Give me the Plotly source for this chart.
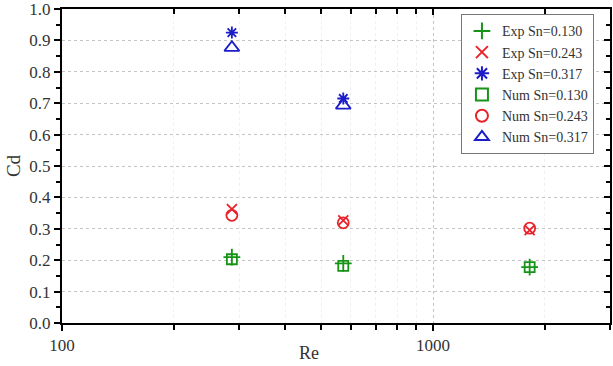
import plotly.graph_objects as go

re_vals = [287, 573, 1822]
exp_130 = [0.210, 0.190, 0.178]
exp_243 = [0.363, 0.327, 0.296]
exp_317 = [0.925, 0.715, 0.574]
num_130 = [0.203, 0.182, 0.178]
num_243 = [0.343, 0.319, 0.302]
num_317 = [0.877, 0.693, 0.555]

green = "#169416"
red = "#e8232a"
blue = "#1c1cc8"

series = [
    ("Exp Sn=0.130", exp_130, "cross-thin", green, 12),
    ("Exp Sn=0.243", exp_243, "x-thin", red, 10),
    ("Exp Sn=0.317", exp_317, "asterisk", blue, 10),
    ("Num Sn=0.130", num_130, "square-open", green, 10),
    ("Num Sn=0.243", num_243, "circle-open", red, 11),
    ("Num Sn=0.317", num_317, "triangle-up-open", blue, 13),
]

fig = go.Figure()
for name, ys, sym, col, sz in series:
    fig.add_trace(go.Scatter(
        x=re_vals, y=ys, mode="markers", name=name,
        marker=dict(symbol=sym, size=sz, color=col,
                    line=dict(color=col, width=1.8)),
    ))

font = "Liberation Serif, Times New Roman, serif"
xr = [2, 3.4771]
grid_dash = "3px,3px"
fig.update_layout(
    width=613, height=366,
    margin=dict(l=62, r=3, t=9, b=43),
    plot_bgcolor="white", paper_bgcolor="white",
    font=dict(family=font, size=16, color="#333"),
    showlegend=True,
    legend=dict(x=0.728, y=0.983, xanchor="left", yanchor="top",
                bgcolor="white", bordercolor="#777", borderwidth=1,
                font=dict(family=font, size=14, color="#333"),
                itemsizing="constant", tracegroupgap=0),
    xaxis=dict(type="log", range=xr, dtick=1, showline=True,
               linecolor="black", linewidth=2, ticks="outside",
               ticklen=6, tickwidth=1.5, tickcolor="black",
               showgrid=True, gridcolor="#c4c4c4", griddash=grid_dash, gridwidth=1,
               minor=dict(dtick="D1", ticks="outside", ticklen=5,
                          tickwidth=1.5, tickcolor="black",
                          showgrid=True, gridcolor="#efefef", gridwidth=1),
               tickfont=dict(family=font, size=17, color="#333"),
               ticklabeloverflow="allow",
               automargin=False, zeroline=False),
    yaxis=dict(range=[0, 1], dtick=0.1, tickformat=".1f", showline=True,
               linecolor="black", linewidth=2, ticks="outside",
               ticklen=6, tickwidth=1.5, tickcolor="black",
               showgrid=True, gridcolor="#c4c4c4", griddash=grid_dash, gridwidth=1,
               minor=dict(dtick=0.05, ticks="outside", ticklen=4,
                          tickwidth=1.5, tickcolor="black", showgrid=False),
               tickfont=dict(family=font, size=17, color="#333"),
               ticklabeloverflow="allow",
               title=dict(text="Cd", font=dict(family=font, size=19, color="#333"),
                          standoff=4),
               automargin=False, zeroline=False),
    xaxis2=dict(type="log", range=xr, dtick=1, overlaying="x", side="top",
                showline=True, linecolor="black", linewidth=2,
                ticks="inside", ticklen=6, tickwidth=1.5, tickcolor="black",
                minor=dict(dtick="D1", ticks="inside", ticklen=5,
                           tickwidth=1.5, tickcolor="black"),
                showticklabels=False, showgrid=False, zeroline=False),
    yaxis2=dict(range=[0, 1], dtick=0.1, overlaying="y", side="right",
                showline=True, linecolor="black", linewidth=2,
                ticks="inside", ticklen=6, tickwidth=1.5, tickcolor="black",
                minor=dict(dtick=0.05, ticks="inside", ticklen=4,
                           tickwidth=1.5, tickcolor="black"),
                showticklabels=False, showgrid=False, zeroline=False),
    annotations=[dict(text="Re", xref="paper", yref="paper", x=0.45, y=-0.135,
                      xanchor="center", yanchor="bottom", showarrow=False,
                      font=dict(family=font, size=18, color="#333"))],
)
fig.add_trace(go.Scatter(x=[re_vals[0]], y=[None], xaxis="x2", yaxis="y2",
                         showlegend=False, hoverinfo="skip", mode="markers"))
fig.write_html("out.html")
